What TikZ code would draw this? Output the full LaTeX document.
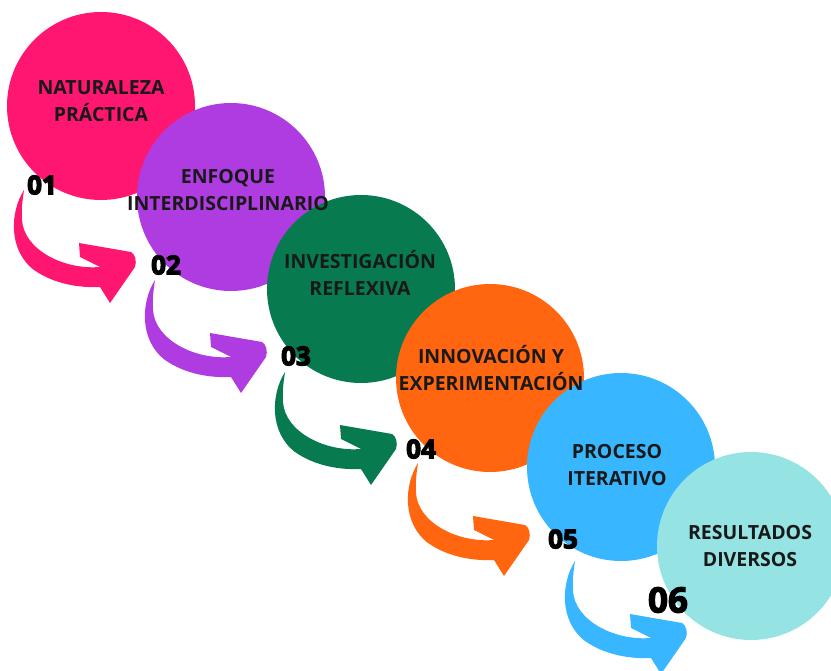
\documentclass[tikz,border=0pt]{standalone}
\usepackage{fontspec}
\setmainfont{Open Sans}
\usepackage{tikz}
\definecolor{rosa}{HTML}{FF1670}
\definecolor{morado}{HTML}{AF3CE0}
\definecolor{verde}{HTML}{087A4F}
\definecolor{naranja}{HTML}{FF660F}
\definecolor{celeste}{HTML}{38B6FF}
\definecolor{aqua}{HTML}{95E3E3}
% heavier digits: fill and stroke the glyphs
\newcommand{\heavy}[1]{\special{pdf:literal 2 Tr 1.2 w}#1\special{pdf:literal 0 Tr}}

\begin{document}
\begin{tikzpicture}[x=1pt,y=-1pt,
    bubble/.style={shape=circle, inner sep=0pt, minimum size=188pt},
    caption/.style={align=center, inner sep=0pt, text=black!90, font=\bfseries\fontsize{19.5}{27}\selectfont},
    num/.style={inner sep=0pt, font=\bfseries\fontsize{26}{26}\selectfont},
    bentarrow/.pic={
      \fill (0,0) .. controls (-14,22) and (-16,60) .. (10,80)
        .. controls (30,94) and (55,98) .. (76,97) -- (86,113) -- (111,77)
        .. controls (113,71) and (111,64) .. (107,62) -- (55,53) -- (56,67) -- (76,77)
        .. controls (40,80) and (0,60) .. (-2,30) .. controls (-3,18) and (-1,8) .. (0,0) -- cycle;
    }]
    \useasboundingbox (0,0) rectangle (831,671);

    % circles, back to front
    \node[bubble,fill=rosa] (c1) at (101,106) {};
    \node[bubble,fill=morado] (c2) at (231,197) {};
    \node[bubble,fill=verde] (c3) at (361,289) {};
    \node[bubble,fill=naranja] (c4) at (490,378) {};
    \node[bubble,fill=celeste] (c5) at (621,467) {};
    \node[bubble,fill=aqua] (c6) at (751,546) {};

    % curved arrows
    \pic[fill=rosa] at (24,190) {bentarrow};
    \pic[fill=morado] at (155,280) {bentarrow};
    \pic[fill=verde] at (285,372) {bentarrow};
    \pic[fill=naranja] at (418,463) {bentarrow};
    \pic[fill=celeste] at (575,561) {bentarrow};

    \node[caption] (t1) at (101,101) {NATURALEZA\\PRÁCTICA};
    \node[caption] (t2) at (228,190) {ENFOQUE\\INTERDISCIPLINARIO};
    \node[caption] (t3) at (360,273) {INVESTIGACIÓN\\REFLEXIVA};
    \node[caption] (t4) at (491,368) {INNOVACIÓN Y\\EXPERIMENTACIÓN};
    \node[caption] (t5) at (617,465) {PROCESO\\ITERATIVO};
    \node[caption] (t6) at (750,546) {RESULTADOS\\DIVERSOS};

    \node[num] (n1) at (42,185) {\heavy{01}};
    \node[num] (n2) at (166,265) {\heavy{02}};
    \node[num] (n3) at (296,356) {\heavy{03}};
    \node[num] (n4) at (421,449) {\heavy{04}};
    \node[num] (n5) at (563,539) {\heavy{05}};
    \node[num,font=\bfseries\fontsize{35}{35}\selectfont] (n6) at (668,600) {\heavy{06}};
\end{tikzpicture}
\end{document}
